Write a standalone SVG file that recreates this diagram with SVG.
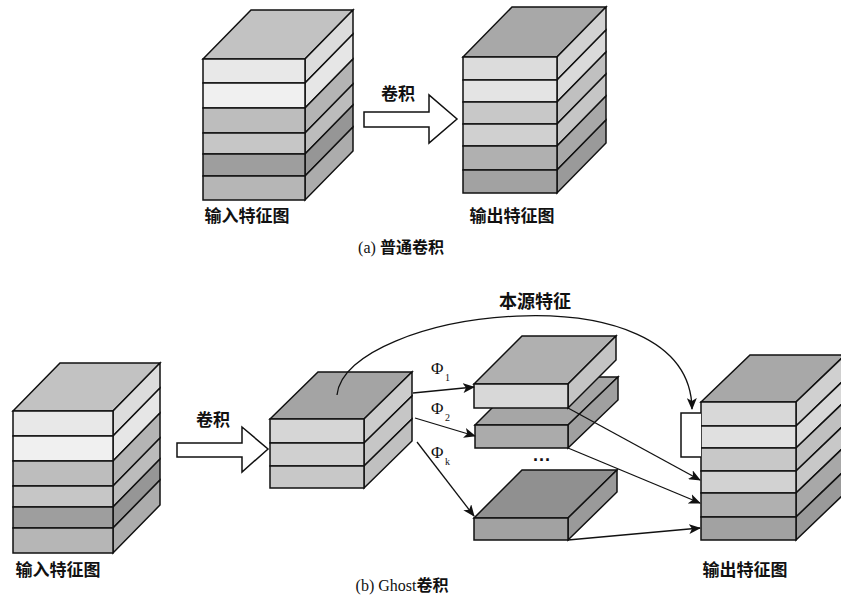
<svg xmlns="http://www.w3.org/2000/svg" width="841" height="599" viewBox="0 0 841 599">
<style>
.f{stroke:#111;stroke-width:1.5;stroke-linejoin:miter}
.ln{fill:none;stroke:#111;stroke-width:1.3}
.blk{fill:#fff;stroke:#111;stroke-width:1.5}
.cn{font-family:"Liberation Serif","Noto Sans CJK SC",serif;font-size:17px;font-weight:bold;fill:#111}
.lat{font-weight:normal}
.phi{font-family:"Liberation Serif","DejaVu Serif",serif;font-size:17px;fill:#111}
.sub{font-family:"Liberation Serif",serif;font-size:10px;fill:#111}
</style>
<defs>
<marker id="ah" viewBox="0 0 12 10" refX="11" refY="5" markerWidth="12" markerHeight="10" markerUnits="userSpaceOnUse" orient="auto">
<path d="M0,0 L12,5 L0,10 L3,5 Z" fill="#111"/>
</marker>
</defs>

<g id="cubeA">
<polygon class="f" fill="#c2c2c2" points="203,59 251,10 353,10 305,59"/>
<polygon class="f" fill="#dcdcdc" points="305,59 353,10 353,34 305,83"/>
<polygon class="f" fill="#e6e6e6" points="305,83 353,34 353,59 305,108"/>
<polygon class="f" fill="#b4b4b4" points="305,108 353,59 353,84 305,133"/>
<polygon class="f" fill="#bcbcbc" points="305,133 353,84 353,105 305,154"/>
<polygon class="f" fill="#969696" points="305,154 353,105 353,127 305,176"/>
<polygon class="f" fill="#acacac" points="305,176 353,127 353,151 305,200"/>
<rect class="f" fill="#e8e8e8" x="203" y="59" width="102" height="24"/>
<rect class="f" fill="#f0f0f0" x="203" y="83" width="102" height="25"/>
<rect class="f" fill="#bdbdbd" x="203" y="108" width="102" height="25"/>
<rect class="f" fill="#c6c6c6" x="203" y="133" width="102" height="21"/>
<rect class="f" fill="#9e9e9e" x="203" y="154" width="102" height="22"/>
<rect class="f" fill="#b6b6b6" x="203" y="176" width="102" height="24"/>
<text class="cn" x="247" y="222" text-anchor="middle">输入特征图</text>
</g>

<g id="arrowA">
<polygon class="blk" points="364,112 429,112 429,95 457,119 429,143 429,127 364,127"/>
<text class="cn" x="398" y="100" text-anchor="middle">卷积</text>
</g>

<g id="cubeB">
<polygon class="f" fill="#a8a8a8" points="463,57 512,7 606,7 557,57"/>
<polygon class="f" fill="#d2d2d2" points="557,57 606,7 606,30 557,80"/>
<polygon class="f" fill="#dadada" points="557,80 606,30 606,52 557,102"/>
<polygon class="f" fill="#c0c0c0" points="557,102 606,52 606,74 557,124"/>
<polygon class="f" fill="#c6c6c6" points="557,124 606,74 606,96 557,146"/>
<polygon class="f" fill="#a8a8a8" points="557,146 606,96 606,120 557,170"/>
<polygon class="f" fill="#9a9a9a" points="557,170 606,120 606,143 557,193"/>
<rect class="f" fill="#dcdcdc" x="463" y="57" width="94" height="23"/>
<rect class="f" fill="#e4e4e4" x="463" y="80" width="94" height="22"/>
<rect class="f" fill="#c8c8c8" x="463" y="102" width="94" height="22"/>
<rect class="f" fill="#d0d0d0" x="463" y="124" width="94" height="22"/>
<rect class="f" fill="#b0b0b0" x="463" y="146" width="94" height="24"/>
<rect class="f" fill="#a2a2a2" x="463" y="170" width="94" height="23"/>
<text class="cn" x="512" y="222" text-anchor="middle">输出特征图</text>
</g>

<text id="capA" class="cn" x="401" y="253" text-anchor="middle" style="font-size:16px"><tspan class="lat">(a)</tspan> 普通卷积</text>

<g id="cubeC">
<polygon class="f" fill="#c2c2c2" points="13,411 60,363 160,363 113,411"/>
<polygon class="f" fill="#dcdcdc" points="113,411 160,363 160,388 113,436"/>
<polygon class="f" fill="#e6e6e6" points="113,436 160,388 160,413 113,461"/>
<polygon class="f" fill="#b4b4b4" points="113,461 160,413 160,438 113,486"/>
<polygon class="f" fill="#bcbcbc" points="113,486 160,438 160,459 113,507"/>
<polygon class="f" fill="#969696" points="113,507 160,459 160,480 113,528"/>
<polygon class="f" fill="#acacac" points="113,528 160,480 160,505 113,553"/>
<rect class="f" fill="#e8e8e8" x="13" y="411" width="100" height="25"/>
<rect class="f" fill="#f0f0f0" x="13" y="436" width="100" height="25"/>
<rect class="f" fill="#bdbdbd" x="13" y="461" width="100" height="25"/>
<rect class="f" fill="#c6c6c6" x="13" y="486" width="100" height="21"/>
<rect class="f" fill="#9e9e9e" x="13" y="507" width="100" height="21"/>
<rect class="f" fill="#b6b6b6" x="13" y="528" width="100" height="25"/>
<text class="cn" x="58" y="576" text-anchor="middle">输入特征图</text>
</g>

<g id="arrowB">
<polygon class="blk" points="177,443 242,443 242,427 268,449 242,472 242,457 177,457"/>
<text class="cn" x="213" y="426" text-anchor="middle">卷积</text>
</g>

<g id="cubeD">
<polygon class="f" fill="#a4a4a4" points="270,419 318,372 412,372 364,419"/>
<polygon class="f" fill="#cccccc" points="364,419 412,372 412,396 364,443"/>
<polygon class="f" fill="#c6c6c6" points="364,443 412,396 412,419 364,466"/>
<polygon class="f" fill="#c0c0c0" points="364,466 412,419 412,441 364,488"/>
<rect class="f" fill="#d6d6d6" x="270" y="419" width="94" height="24"/>
<rect class="f" fill="#d0d0d0" x="270" y="443" width="94" height="23"/>
<rect class="f" fill="#c8c8c8" x="270" y="466" width="94" height="22"/>
</g>

<g id="slab2">
<polygon class="f" fill="#a6a6a6" points="475,425 523,377 618,377 568,425"/>
<polygon class="f" fill="#a0a0a0" points="568,425 618,377 618,400 568,448"/>
<rect class="f" fill="#ababab" x="475" y="425" width="93" height="23"/>
</g>
<g id="slab1">
<polygon class="f" fill="#b0b0b0" points="474,384 522,336 616,336 568,384"/>
<polygon class="f" fill="#c4c4c4" points="568,384 616,336 616,360 568,408"/>
<rect class="f" fill="#d8d8d8" x="474" y="384" width="94" height="24"/>
</g>
<g id="slab3">
<polygon class="f" fill="#909090" points="474,518 522,470 617,470 568,518"/>
<polygon class="f" fill="#9a9a9a" points="568,518 617,470 617,492 568,540"/>
<rect class="f" fill="#a2a2a2" x="474" y="518" width="94" height="22"/>
</g>
<text id="dots" x="542" y="466" text-anchor="middle" style="font-family:'Liberation Sans',sans-serif;font-size:18px;font-weight:bold;fill:#111">···</text>

<g id="cubeE">
<polygon class="f" fill="#a8a8a8" points="701,402 750,355 845,355 796,402"/>
<polygon class="f" fill="#d0d0d0" points="796,402 845,355 845,379 796,426"/>
<polygon class="f" fill="#d8d8d8" points="796,426 845,379 845,401 796,448"/>
<polygon class="f" fill="#c0c0c0" points="796,448 845,401 845,424 796,471"/>
<polygon class="f" fill="#c8c8c8" points="796,471 845,424 845,446 796,493"/>
<polygon class="f" fill="#a8a8a8" points="796,493 845,446 845,470 796,517"/>
<polygon class="f" fill="#9a9a9a" points="796,517 845,470 845,493 796,540"/>
<rect class="f" fill="#d8d8d8" x="701" y="402" width="95" height="24"/>
<rect class="f" fill="#e0e0e0" x="701" y="426" width="95" height="22"/>
<rect class="f" fill="#c8c8c8" x="701" y="448" width="95" height="23"/>
<rect class="f" fill="#d2d2d2" x="701" y="471" width="95" height="22"/>
<rect class="f" fill="#b0b0b0" x="701" y="493" width="95" height="24"/>
<rect class="f" fill="#a2a2a2" x="701" y="517" width="95" height="23"/>
<path class="blk" d="M701,413 H681 V457 H701"/>
<text class="cn" x="745" y="576" text-anchor="middle">输出特征图</text>
</g>

<g id="connectors">
<path class="ln" d="M337,395 C345,310 690,265 692,409" marker-end="url(#ah)"/>
<path class="ln" d="M413,393 L474,387" marker-end="url(#ah)"/>
<path class="ln" d="M415,418 L475,436" marker-end="url(#ah)"/>
<path class="ln" d="M417,442 L474,516" marker-end="url(#ah)"/>
<path class="ln" d="M568,408 L700,480" marker-end="url(#ah)"/>
<path class="ln" d="M568,448 L700,503" marker-end="url(#ah)"/>
<path class="ln" d="M568,540 L700,528" marker-end="url(#ah)"/>
</g>

<g id="labels">
<text class="cn" x="535" y="308" text-anchor="middle" style="font-size:18px">本源特征</text>
<text class="phi" x="431" y="374">Φ</text><text class="sub" x="445" y="381">1</text>
<text class="phi" x="431" y="414">Φ</text><text class="sub" x="445" y="421">2</text>
<text class="phi" x="431" y="458">Φ</text><text class="sub" x="445" y="465">k</text>
<text class="cn" x="402" y="591" text-anchor="middle" style="font-size:16px"><tspan class="lat">(b) Ghost</tspan>卷积</text>
</g>
</svg>
